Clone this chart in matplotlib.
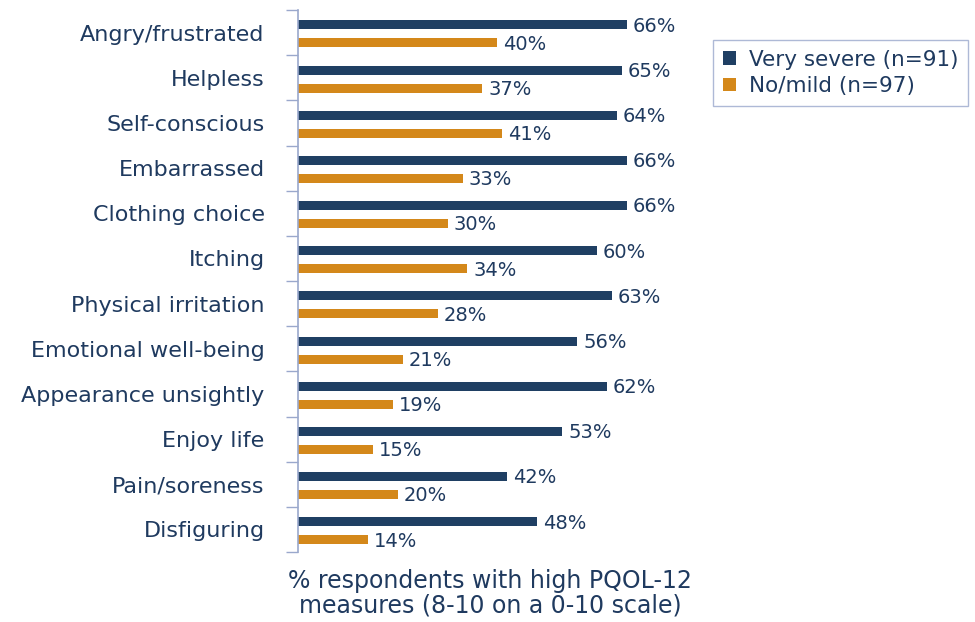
import matplotlib.pyplot as plt
import numpy as np

categories = ['Angry/frustrated', 'Helpless', 'Self-conscious', 'Embarrassed',
              'Clothing choice', 'Itching', 'Physical irritation',
              'Emotional well-being', 'Appearance unsightly', 'Enjoy life',
              'Pain/soreness', 'Disfiguring']
very_severe = [66, 65, 64, 66, 66, 60, 63, 56, 62, 53, 42, 48]
no_mild = [40, 37, 41, 33, 30, 34, 28, 21, 19, 15, 20, 14]
series_labels = ['Very severe (n=91)', 'No/mild (n=97)']

navy = '#1F3F63'
orange = '#D4881A'
text_col = '#1F3A5F'
axis_col = '#9AA8CC'

fig = plt.figure(figsize=(9.75, 6.22), dpi=100)
ax = fig.add_axes([298 / 975, 1 - 552 / 622, 1 - 298 / 975, (552 - 10) / 622])

y = np.arange(len(categories))
h = 0.2
b1 = ax.barh(y - 0.17, very_severe, height=h, color=navy, label=series_labels[0])
b2 = ax.barh(y + 0.23, no_mild, height=h, color=orange, label=series_labels[1])

for bars in (b1, b2):
    for bar in bars:
        w = bar.get_width()
        ax.text(w + 1.2, bar.get_y() + bar.get_height() / 2 + 0.03, f'{w:.0f}%',
                va='center', ha='left', fontsize=14, color=text_col)

ax.set_xlim(0, 135.8)
ax.set_ylim(len(categories) - 0.5, -0.5)

ax.set_yticks(y)
ax.set_yticklabels(categories, fontsize=16, color=text_col)
ax.tick_params(axis='y', which='major', length=0, pad=24)
ax.set_yticks(np.arange(-0.5, len(categories), 1), minor=True)
ax.tick_params(axis='y', which='minor', length=9, color=axis_col, width=1)
ax.set_xticks([])

for s in ['top', 'right', 'bottom']:
    ax.spines[s].set_visible(False)
ax.spines['left'].set_color(axis_col)
ax.spines['left'].set_linewidth(1.2)

leg = ax.legend(loc='upper left', bbox_to_anchor=(713 / 975, 1 - 40 / 622),
                bbox_transform=fig.transFigure, fontsize=15.5, frameon=True,
                fancybox=False, handlelength=0.6, handleheight=0.6,
                handletextpad=0.6, borderpad=0.45, labelspacing=0.3,
                borderaxespad=0)
leg.get_frame().set_edgecolor(axis_col)
leg.get_frame().set_linewidth(1)
for t in leg.get_texts():
    t.set_color(text_col)

fig.text(490 / 975, 1 - 593 / 622,
         '% respondents with high PQOL-12\nmeasures (8-10 on a 0-10 scale)',
         ha='center', va='center', fontsize=17, color=text_col, linespacing=1.0)

fig.savefig('out.png', dpi=100)
